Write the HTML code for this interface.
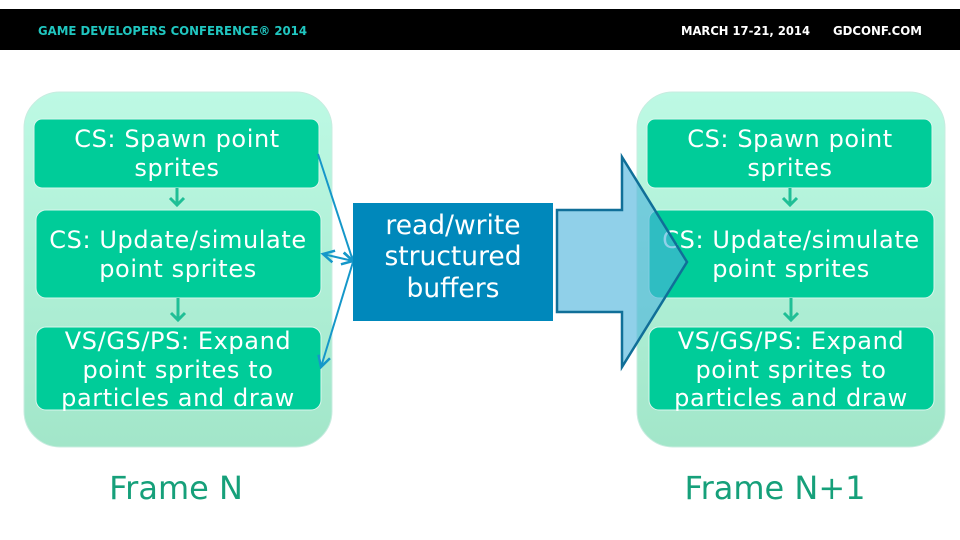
<!DOCTYPE html>
<html><head><meta charset="utf-8"><style>
html,body{margin:0;padding:0;background:#fff;width:960px;height:540px;overflow:hidden}
svg{display:block}
text{font-family:"DejaVu Sans","Liberation Sans",sans-serif}
</style></head><body>
<svg width="960" height="540" viewBox="0 0 960 540" xmlns="http://www.w3.org/2000/svg">
<defs>
<linearGradient id="g" x1="0" y1="0" x2="0" y2="1">
<stop offset="0" stop-color="#bdf9e4"/><stop offset="1" stop-color="#a2e6c9"/>
</linearGradient>
<marker id="ab" markerWidth="16" markerHeight="16" refX="13" refY="8" orient="auto" markerUnits="userSpaceOnUse">
<path d="M2,2 L13,8 L2,14" fill="none" stroke="#1597c9" stroke-width="2.5"/>
</marker>
<marker id="as" markerWidth="16" markerHeight="16" refX="3" refY="8" orient="auto" markerUnits="userSpaceOnUse">
<path d="M14,2 L3,8 L14,14" fill="none" stroke="#1597c9" stroke-width="2.5"/>
</marker>
</defs>
<rect x="0" y="9" width="960" height="41" fill="#000"/>
<text x="38" y="35" font-size="12" font-weight="bold" fill="#20c6c0" font-family="Liberation Sans" textLength="269" lengthAdjust="spacingAndGlyphs">GAME DEVELOPERS CONFERENCE® 2014</text>
<text x="681" y="35" font-size="12" font-weight="bold" fill="#fff" font-family="Liberation Sans" textLength="129" lengthAdjust="spacingAndGlyphs">MARCH 17-21, 2014</text>
<text x="833" y="35" font-size="12" font-weight="bold" fill="#fff" font-family="Liberation Sans" textLength="89" lengthAdjust="spacingAndGlyphs">GDCONF.COM</text>

<g id="L">
<rect x="24" y="92" width="308" height="355" rx="36" fill="url(#g)" stroke="#c8ece0"/>
<rect x="34" y="119" width="285" height="69" rx="8" fill="#00cc99" stroke="#d8f6ec"/>
<rect x="36" y="210" width="285" height="88" rx="10" fill="#00cc99" stroke="#d8f6ec"/>
<rect x="36" y="327" width="285" height="83" rx="10" fill="#00cc99" stroke="#d8f6ec"/>
<path d="M177,188 V205 M170,198 L177,205 L184,198 M178,298 V320 M171,313 L178,320 L185,313" stroke="#1fbf96" stroke-width="3" fill="none"/>
<g font-size="24" fill="#fff" text-anchor="middle" letter-spacing="0.6">
<text x="177" y="147">CS: Spawn point</text>
<text x="177" y="176">sprites</text>
<text x="178" y="248">CS: Update/simulate</text>
<text x="178" y="277">point sprites</text>
<text x="178" y="349">VS/GS/PS: Expand</text>
<text x="178" y="378">point sprites to</text>
<text x="178" y="406">particles and draw</text>
</g>
</g>
<use href="#L" x="613"/>
<line x1="318" y1="154" x2="353" y2="261" stroke="#1597c9" stroke-width="2" marker-end="url(#ab)"/>
<line x1="323" y1="254" x2="353" y2="261" stroke="#1597c9" stroke-width="2" marker-start="url(#as)" marker-end="url(#ab)"/>
<line x1="353" y1="262" x2="321" y2="367" stroke="#1597c9" stroke-width="2" marker-end="url(#ab)"/>
<rect x="353" y="203" width="200" height="118" fill="#0088bb"/>
<g font-size="26.5" fill="#fff" text-anchor="middle">
<text x="453" y="234">read/write</text>
<text x="453" y="265">structured</text>
<text x="453" y="297">buffers</text>
</g>
<path d="M557,210 H622 V157 L687,262 L622,367 V312 H557 Z" fill="#4cb3dc" fill-opacity="0.62" stroke="#106f98" stroke-width="2.5"/>
<text x="176" y="499" font-size="32" fill="#16a07a" text-anchor="middle">Frame N</text>
<text x="775" y="499" font-size="32" fill="#16a07a" text-anchor="middle">Frame N+1</text>
</svg>
</body></html>
